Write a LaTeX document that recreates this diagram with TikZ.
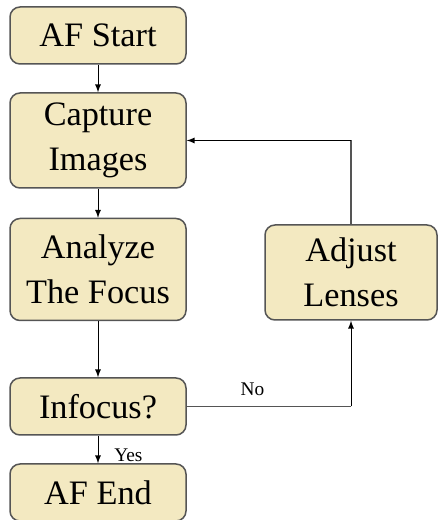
\documentclass[tikz,border=0pt]{standalone}
\usepackage{fontspec}
\setmainfont{Liberation Serif}
\usepackage{xcolor}
\definecolor{boxFill}{HTML}{F3E9C1}
\definecolor{boxLine}{HTML}{555555}
\begin{document}
\begin{tikzpicture}
[lineDecorate/.style={-latex,line width=0.2mm},
 backDecorate/.style={line width=0.25mm,draw=boxLine},
 nodeDecorate/.style={shape=rectangle,rounded corners=0.2cm,draw=boxLine,line width=0.3mm,fill=boxFill,
   minimum width=3.52cm,align=center,font=\fontsize{19.5}{25.5}\selectfont,inner sep=0pt},
 labelDecorate/.style={font=\fontsize{11}{13}\selectfont,inner sep=1pt}]

 \useasboundingbox (0,0) rectangle (8.76,10.4);

 \node (start) at (1.96,9.69) [nodeDecorate, minimum height=1.14cm] {AF Start};
 \node (capture) at (1.96,7.59) [nodeDecorate, minimum height=1.9cm] {Capture\\Images};
 \node (analyze) at (1.96,5.01) [nodeDecorate, minimum height=2.04cm] {Analyze\\The Focus};
 \node (infocus) at (1.96,2.27) [nodeDecorate, minimum height=1.14cm] {Infocus?};
 \node (finish) at (1.96,0.55) [nodeDecorate, minimum height=1.14cm] {AF End};
 \node (adjust) at (7.02,4.95) [nodeDecorate, minimum width=3.44cm, minimum height=1.9cm] {Adjust\\Lenses};

\path
 (start) edge[lineDecorate] (capture)
 (capture) edge[lineDecorate] (analyze)
 (analyze) edge[lineDecorate] (infocus)
 (infocus) edge[lineDecorate] node[labelDecorate, right=8pt, pos=0.72] {Yes} (finish);

 \draw[backDecorate] (infocus.east) -- node[labelDecorate, above=5pt, pos=0.4] {No} (adjust.south |- infocus.east);
 \draw[lineDecorate] (adjust.south |- infocus.east) -- (adjust.south);
 \draw[backDecorate] (adjust.north) -- (adjust.north |- capture.east);
 \draw[lineDecorate] (adjust.north |- capture.east) -- (capture.east);
\end{tikzpicture}
\end{document}
